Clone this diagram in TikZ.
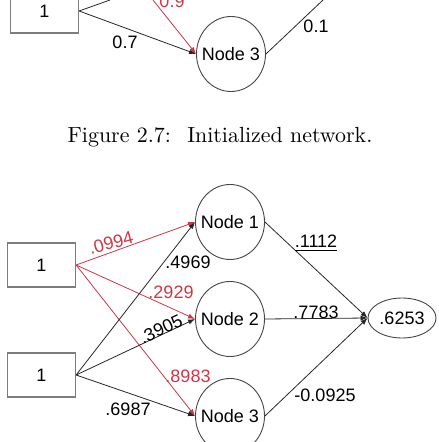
\documentclass[tikz,border=0pt]{standalone}
\usepackage{fontspec}
\newfontfamily\labfont{Liberation Sans}
\usetikzlibrary{shapes.geometric,arrows.meta}
\definecolor{redl}{RGB}{205,55,70}
\definecolor{boxgray}{RGB}{125,125,125}
\definecolor{circgray}{RGB}{70,70,70}
\newcommand{\zw}[1]{\makebox[0pt]{#1}}
\begin{document}
\begin{tikzpicture}[x=0.5pt,y=-0.5pt,
  lbl/.style={font=\labfont\fontsize{9}{10}\selectfont, inner sep=0pt},
  redlbl/.style={lbl, text=redl},
  neuron/.style={ellipse, draw=circgray, line width=0.45pt, minimum width=34.5pt, minimum height=37.5pt, inner sep=0pt, font=\labfont\fontsize{9}{10}\selectfont},
  outnode/.style={neuron, minimum width=34pt, minimum height=20pt},
  inbox/.style={rectangle, draw=boxgray, line width=0.6pt, minimum width=34pt, minimum height=22pt, inner sep=0pt, font=\labfont\fontsize{9}{10}\selectfont},
  wire/.style={line width=0.4pt, draw=black!85, -{Latex[length=3.5pt,width=2.6pt]}},
  plainwire/.style={line width=0.4pt, draw=black!85},
  redwire/.style={wire, draw=redl}]
\useasboundingbox (0,0) rectangle (438,442);
\clip (0,0) rectangle (438,442);

% ---- top (cropped previous figure) ----
\node[inbox] (tbox) at (44.5,11) {1};
\node[neuron] (tn3) at (231,54) {\zw{Node 3}};
\coordinate (tup1) at (110,0);
\coordinate (tred) at (153,0);
\coordinate (tup2) at (323,0);
\draw[plainwire] (tbox.east) -- (tup1);
\draw[wire] (tbox.east) -- (tn3.west);
\draw[redwire] (tred) -- (tn3.west);
\draw[plainwire] (tn3.east) -- (tup2);
\node[lbl] (l07) at (125,42) {0.7};
\node[redlbl] (l09) at (172,1) {0.9};
\node[lbl] (l01) at (316,26) {0.1};

% ---- caption ----
\node[inner sep=0pt, font=\fontsize{10.95}{13}\selectfont] (cap) at (220,137) {Figure 2.7:\hspace{0.75em}Initialized network.};

% ---- bottom network ----
\node[inbox] (ba) at (41.5,265) {1};
\node[inbox] (bb) at (41.5,375) {1};
\node[neuron] (n1) at (230,222) {\zw{Node 1}};
\node[neuron] (n2) at (230,319) {\zw{Node 2}};
\node[neuron] (n3) at (230,416) {\zw{Node 3}};
\node[outnode] (out) at (402,318) {\zw{.6253}};

\draw[redwire] (ba.east) -- (n1.west);
\draw[redwire] (ba.east) -- (n2.west);
\draw[redwire] (ba.east) -- (n3.west);
\draw[wire] (bb.east) -- (n1.west);
\draw[wire] (bb.east) -- (n2.west);
\draw[wire] (bb.east) -- (n3.west);
\draw[wire] (n1.east) -- (out.west);
\draw[wire] (n2.east) -- (out.west);
\draw[wire] (n3.east) -- (out.west);

\node[redlbl, rotate=15] (w1) at (111,243) {.0994};
\node[lbl] (w2) at (188,262) {.4969};
\node[redlbl] (w3) at (171,292) {.2929};
\node[lbl, rotate=25] (w4) at (161,329) {.3905};
\node[redlbl] (w5) at (188,376) {.8983};
\node[lbl] (w6) at (128,409) {.6987};
\node[lbl] (w7) at (316,243) {\underline{.1112}};
\node[lbl] (w8) at (316,312) {.7783};
\node[lbl] (w9) at (325,395) {-0.0925};
\end{tikzpicture}
\end{document}
